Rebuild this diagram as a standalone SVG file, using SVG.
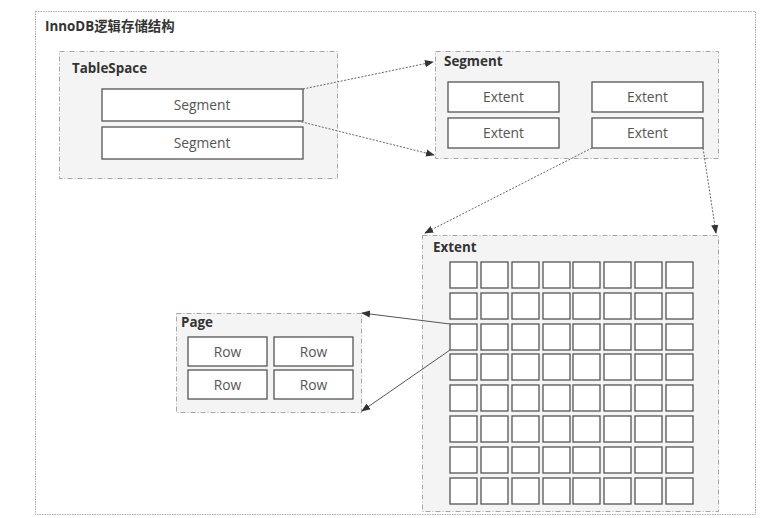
<svg xmlns="http://www.w3.org/2000/svg" width="767" height="518" viewBox="0 0 767 518">
<style>
.frame{fill:#fff;stroke:#aaa;stroke-width:1;stroke-dasharray:1.5 1}
.cont{fill:#f4f4f4;stroke:#a6a6a6;stroke-width:1;stroke-dasharray:5 2 1 2}
.box{fill:#fff;stroke:#555;stroke-width:1.3}
.title{font-family:"Open Sans","Noto Sans","Noto Sans CJK SC",sans-serif;font-weight:bold;font-size:13.4px;fill:#333}
.lbl{font-family:"Open Sans","Noto Sans",sans-serif;font-size:13.8px;fill:#555;text-anchor:middle}
.dot{fill:none;stroke:#666;stroke-width:1;stroke-dasharray:2 1.5}
.sol{fill:none;stroke:#555;stroke-width:1}
</style>
<defs>
<marker id="ah" viewBox="0 0 10 10" refX="9" refY="5" markerWidth="9" markerHeight="9" markerUnits="userSpaceOnUse" orient="auto">
<path d="M0,1 L10,5 L0,9 Z" fill="#333"/>
</marker>
</defs>
<rect width="767" height="518" fill="#fff"/>
<rect class="frame" x="35.5" y="11.5" width="720" height="503"/>
<text class="title" x="45" y="31">InnoDB逻辑存储结构</text>

<g id="tablespace">
<rect class="cont" x="59.5" y="51.5" width="278" height="127"/>
<text class="title" x="72" y="73">TableSpace</text>
<rect class="box" x="102" y="89" width="201" height="32"/>
<text class="lbl" x="202" y="109.5">Segment</text>
<rect class="box" x="102" y="127" width="201" height="32"/>
<text class="lbl" x="202" y="148">Segment</text>
</g>

<g id="segment">
<rect class="cont" x="435.5" y="51.5" width="283" height="107"/>
<text class="title" x="444" y="66">Segment</text>
<rect class="box" x="448" y="82" width="111" height="30"/>
<text class="lbl" x="503.5" y="101.5">Extent</text>
<rect class="box" x="592" y="82" width="111" height="30"/>
<text class="lbl" x="647.5" y="101.5">Extent</text>
<rect class="box" x="448" y="118" width="111" height="30"/>
<text class="lbl" x="503.5" y="137.5">Extent</text>
<rect class="box" x="592" y="118" width="111" height="30"/>
<text class="lbl" x="647.5" y="137.5">Extent</text>
</g>

<g id="extent">
<rect class="cont" x="422.5" y="235.5" width="296" height="276"/>
<text class="title" x="433" y="252">Extent</text>
<g id="grid">
<rect class="box" x="450" y="262" width="27" height="26"/><rect class="box" x="481" y="262" width="27" height="26"/><rect class="box" x="512" y="262" width="27" height="26"/><rect class="box" x="543" y="262" width="27" height="26"/><rect class="box" x="573" y="262" width="27" height="26"/><rect class="box" x="604" y="262" width="27" height="26"/><rect class="box" x="635" y="262" width="27" height="26"/><rect class="box" x="666" y="262" width="27" height="26"/>
<rect class="box" x="450" y="293" width="27" height="26"/><rect class="box" x="481" y="293" width="27" height="26"/><rect class="box" x="512" y="293" width="27" height="26"/><rect class="box" x="543" y="293" width="27" height="26"/><rect class="box" x="573" y="293" width="27" height="26"/><rect class="box" x="604" y="293" width="27" height="26"/><rect class="box" x="635" y="293" width="27" height="26"/><rect class="box" x="666" y="293" width="27" height="26"/>
<rect class="box" x="450" y="324" width="27" height="26"/><rect class="box" x="481" y="324" width="27" height="26"/><rect class="box" x="512" y="324" width="27" height="26"/><rect class="box" x="543" y="324" width="27" height="26"/><rect class="box" x="573" y="324" width="27" height="26"/><rect class="box" x="604" y="324" width="27" height="26"/><rect class="box" x="635" y="324" width="27" height="26"/><rect class="box" x="666" y="324" width="27" height="26"/>
<rect class="box" x="450" y="354" width="27" height="26"/><rect class="box" x="481" y="354" width="27" height="26"/><rect class="box" x="512" y="354" width="27" height="26"/><rect class="box" x="543" y="354" width="27" height="26"/><rect class="box" x="573" y="354" width="27" height="26"/><rect class="box" x="604" y="354" width="27" height="26"/><rect class="box" x="635" y="354" width="27" height="26"/><rect class="box" x="666" y="354" width="27" height="26"/>
<rect class="box" x="450" y="385" width="27" height="26"/><rect class="box" x="481" y="385" width="27" height="26"/><rect class="box" x="512" y="385" width="27" height="26"/><rect class="box" x="543" y="385" width="27" height="26"/><rect class="box" x="573" y="385" width="27" height="26"/><rect class="box" x="604" y="385" width="27" height="26"/><rect class="box" x="635" y="385" width="27" height="26"/><rect class="box" x="666" y="385" width="27" height="26"/>
<rect class="box" x="450" y="416" width="27" height="26"/><rect class="box" x="481" y="416" width="27" height="26"/><rect class="box" x="512" y="416" width="27" height="26"/><rect class="box" x="543" y="416" width="27" height="26"/><rect class="box" x="573" y="416" width="27" height="26"/><rect class="box" x="604" y="416" width="27" height="26"/><rect class="box" x="635" y="416" width="27" height="26"/><rect class="box" x="666" y="416" width="27" height="26"/>
<rect class="box" x="450" y="447" width="27" height="26"/><rect class="box" x="481" y="447" width="27" height="26"/><rect class="box" x="512" y="447" width="27" height="26"/><rect class="box" x="543" y="447" width="27" height="26"/><rect class="box" x="573" y="447" width="27" height="26"/><rect class="box" x="604" y="447" width="27" height="26"/><rect class="box" x="635" y="447" width="27" height="26"/><rect class="box" x="666" y="447" width="27" height="26"/>
<rect class="box" x="450" y="478" width="27" height="26"/><rect class="box" x="481" y="478" width="27" height="26"/><rect class="box" x="512" y="478" width="27" height="26"/><rect class="box" x="543" y="478" width="27" height="26"/><rect class="box" x="573" y="478" width="27" height="26"/><rect class="box" x="604" y="478" width="27" height="26"/><rect class="box" x="635" y="478" width="27" height="26"/><rect class="box" x="666" y="478" width="27" height="26"/>
</g>
</g>

<g id="page">
<rect class="cont" x="176.5" y="313.5" width="185" height="99"/>
<text class="title" x="181" y="327">Page</text>
<rect class="box" x="188" y="337" width="79" height="29"/>
<text class="lbl" x="227.5" y="356.5">Row</text>
<rect class="box" x="274" y="337" width="79" height="29"/>
<text class="lbl" x="313.5" y="356.5">Row</text>
<rect class="box" x="188" y="370" width="79" height="29"/>
<text class="lbl" x="227.5" y="389.5">Row</text>
<rect class="box" x="274" y="370" width="79" height="29"/>
<text class="lbl" x="313.5" y="389.5">Row</text>
</g>

<g id="connectors">
<line class="dot" x1="303" y1="89" x2="433" y2="62" marker-end="url(#ah)"/>
<line class="dot" x1="298" y1="121" x2="434" y2="155" marker-end="url(#ah)"/>
<line class="dot" x1="592" y1="148" x2="425" y2="233" marker-end="url(#ah)"/>
<line class="dot" x1="703" y1="148" x2="716" y2="233" marker-end="url(#ah)"/>
<line class="sol" x1="450" y1="324" x2="362" y2="313" marker-end="url(#ah)"/>
<line class="sol" x1="450" y1="350" x2="362" y2="411" marker-end="url(#ah)"/>
</g>
</svg>
